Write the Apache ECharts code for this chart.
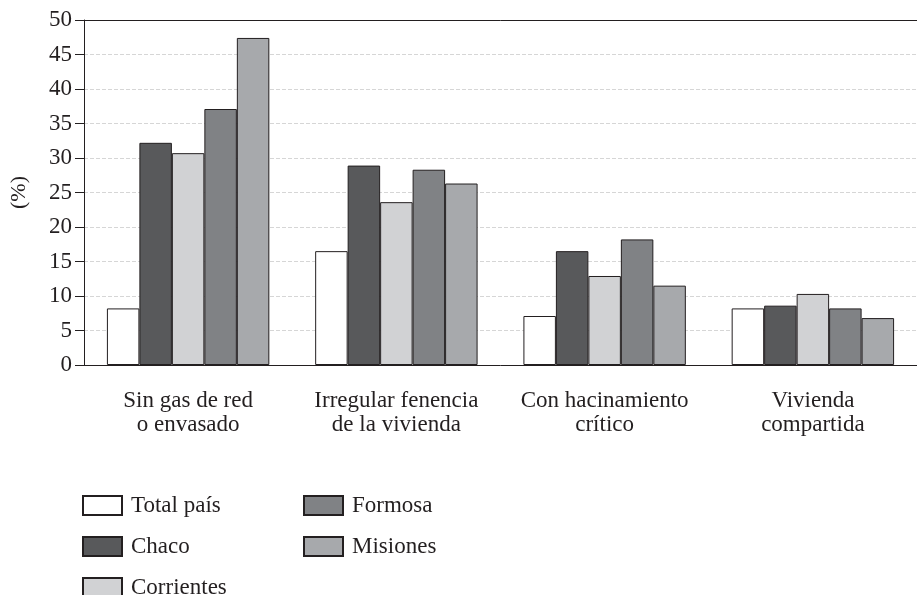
<!DOCTYPE html>
<html>
<head>
<meta charset="utf-8">
<script src="https://cdn.jsdelivr.net/npm/echarts@6/dist/echarts.min.js"></script>
<style>
html,body{margin:0;padding:0;background:#fff;}
#chart{width:917px;height:595px;}
</style>
</head>
<body>
<div id="chart"></div>
<script>
// 类目
var categories = ['Sin gas de red\no envasado', 'Irregular fenencia\nde la vivienda', 'Con hacinamiento\ncrítico', 'Vivienda\ncompartida'];
// 系列数据 (%)
var totalPais = [8.2, 16.5, 7.1, 8.2];
var chaco = [32.2, 28.9, 16.5, 8.6];
var corrientes = [30.7, 23.6, 12.9, 10.3];
var formosa = [37.1, 28.3, 18.2, 8.2];
var misiones = [47.4, 26.3, 11.5, 6.8];
var yTicks = [0, 5, 10, 15, 20, 25, 30, 35, 40, 45, 50];

var serif = '"Liberation Serif", "DejaVu Serif", serif';
var ink = '#231f20';

function bar(name, data, color) {
    return {
        name: name,
        type: 'bar',
        barGap: 0,
        barCategoryGap: '22%',
        data: data,
        itemStyle: {color: color, borderColor: ink, borderWidth: 1}
    };
}

function legendCol(items, left) {
    return {
        data: items,
        orient: 'vertical', left: left, top: 494, height: 140,
        padding: 0,
        icon: 'rect',
        itemWidth: 39, itemHeight: 19, itemGap: 18,
        textStyle: {fontFamily: serif, fontSize: 23, color: ink, padding: [0, 0, 0, 4]}
    };
}

var chart = echarts.init(document.getElementById('chart'));
chart.setOption({
    animation: false,
    grid: {left: 84, right: 0, top: 20, bottom: 230, outerBoundsMode: 'none'},
    legend: [
        legendCol(['Total país', 'Chaco', 'Corrientes'], 82),
        legendCol(['Formosa', 'Misiones'], 303)
    ],
    xAxis: [
        {
            type: 'category',
            data: categories,
            axisLine: {lineStyle: {color: ink, width: 1}},
            axisTick: {length: 7, lineStyle: {color: ink}},
            axisLabel: {fontFamily: serif, fontSize: 23, color: ink, margin: 24, lineHeight: 24, interval: 0}
        },
        {
            // 顶部边线
            type: 'category',
            data: categories,
            position: 'top',
            axisLine: {lineStyle: {color: ink, width: 1}},
            axisTick: {show: false},
            axisLabel: {show: false}
        }
    ],
    yAxis: {
        type: 'value',
        min: yTicks[0], max: yTicks[yTicks.length - 1], interval: 5,
        name: '(%)',
        nameLocation: 'middle', nameRotate: 90, nameGap: 54,
        nameTextStyle: {fontFamily: serif, fontSize: 22, color: ink},
        axisLine: {show: true, lineStyle: {color: ink, width: 1}},
        axisTick: {show: true, length: 9, lineStyle: {color: ink}},
        axisLabel: {fontFamily: serif, fontSize: 23, color: ink, margin: 12},
        splitLine: {lineStyle: {color: '#d6d6d6', type: 'dashed'}}
    },
    series: [
        bar('Total país', totalPais, '#ffffff'),
        bar('Chaco', chaco, '#58595b'),
        bar('Corrientes', corrientes, '#d1d2d4'),
        bar('Formosa', formosa, '#808285'),
        bar('Misiones', misiones, '#a7a9ac')
    ]
});
</script>
</body>
</html>
